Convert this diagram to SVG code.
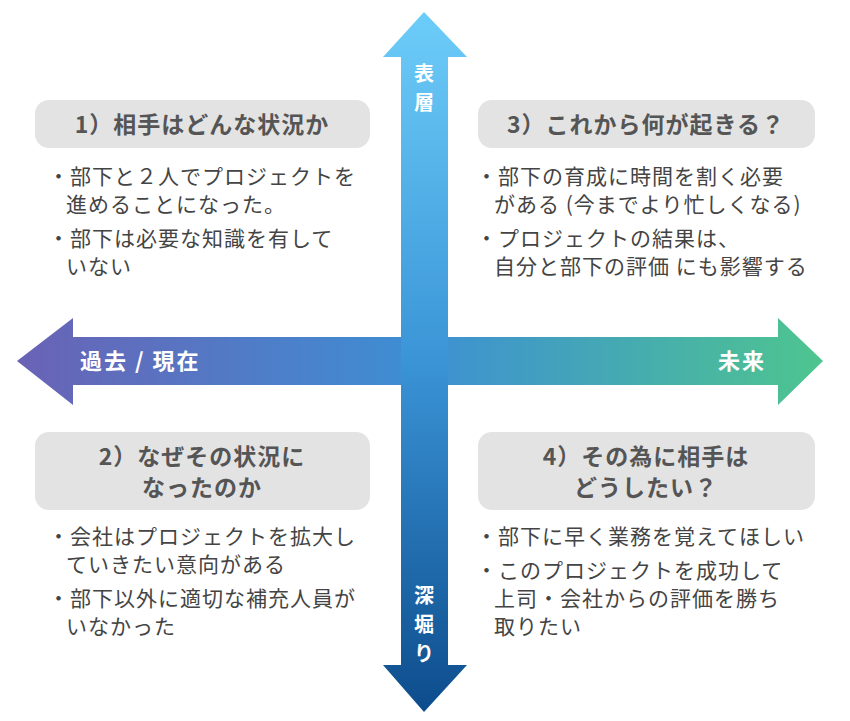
<svg xmlns="http://www.w3.org/2000/svg" width="850" height="721" viewBox="0 0 850 721">
<defs>
<linearGradient id="gh" x1="0" y1="0" x2="1" y2="0"><stop offset="0" stop-color="#6a62b5"/><stop offset="0.5" stop-color="#3d8fd4"/><stop offset="1" stop-color="#4ec58f"/></linearGradient>
<linearGradient id="gv" x1="0" y1="0" x2="0" y2="1"><stop offset="0" stop-color="#6dcdf9"/><stop offset="0.5" stop-color="#3a94d6"/><stop offset="1" stop-color="#0d4c8c"/></linearGradient>
<style>
.box{fill:#e3e3e3}
.t{font-family:"Noto Sans CJK JP","Noto Sans",sans-serif;font-weight:bold;font-size:23px;letter-spacing:1px;fill:#555;text-anchor:middle}
.b{font-family:"Noto Sans CJK JP","Noto Sans",sans-serif;font-size:21px;letter-spacing:1px;fill:#444}
.w{font-family:"Noto Sans CJK JP","Noto Sans",sans-serif;font-weight:bold;font-size:22px;letter-spacing:2px;fill:#fff}
.v{font-family:"Noto Sans CJK JP","Noto Sans",sans-serif;font-weight:bold;font-size:20px;fill:#fff;text-anchor:middle}
</style>
</defs>
<g id="connectors">
<polygon fill="url(#gh)" points="17,361 73,318 73,337 778,337 778,318 823,361 778,405 778,385 73,385 73,405"/>
<polygon fill="url(#gv)" points="424,12 467,57 448,57 448,665 467,665 424,712 383,665 401,665 401,57 383,57"/>
<text class="w" x="80" y="369">過去 / 現在</text>
<text class="w" x="718" y="369">未来</text>
<text class="v" x="424" y="81">表</text>
<text class="v" x="424" y="110">層</text>
<text class="v" x="424" y="603">深</text>
<text class="v" x="424" y="632">堀</text>
<text class="v" x="424" y="661">り</text>
</g>
<g id="n1">
<rect class="box" x="35" y="100" width="335" height="48" rx="14"/>
<text class="t" x="202" y="133">1）相手はどんな状況か</text>
<text class="b" x="48" y="184">・部下と２人でプロジェクトを</text>
<text class="b" x="66" y="212">進めることになった。</text>
<text class="b" x="48" y="246">・部下は必要な知識を有して</text>
<text class="b" x="66" y="274">いない</text>
</g>
<g id="n3">
<rect class="box" x="478" y="100" width="337" height="48" rx="14"/>
<text class="t" x="646" y="133">3）これから何が起きる？</text>
<text class="b" x="476" y="184">・部下の育成に時間を割く必要</text>
<text class="b" x="494" y="212">がある (今までより忙しくなる)</text>
<text class="b" x="476" y="246">・プロジェクトの結果は、</text>
<text class="b" x="494" y="274">自分と部下の評価 にも影響する</text>
</g>
<g id="n2">
<rect class="box" x="35" y="432" width="335" height="78" rx="14"/>
<text class="t" x="202" y="465">2）なぜその状況に</text>
<text class="t" x="202" y="496">なったのか</text>
<text class="b" x="48" y="544">・会社はプロジェクトを拡大し</text>
<text class="b" x="66" y="572">ていきたい意向がある</text>
<text class="b" x="48" y="606">・部下以外に適切な補充人員が</text>
<text class="b" x="66" y="634">いなかった</text>
</g>
<g id="n4">
<rect class="box" x="478" y="432" width="337" height="78" rx="14"/>
<text class="t" x="646" y="465">4）その為に相手は</text>
<text class="t" x="646" y="496">どうしたい？</text>
<text class="b" x="476" y="544">・部下に早く業務を覚えてほしい</text>
<text class="b" x="476" y="578">・このプロジェクトを成功して</text>
<text class="b" x="494" y="606">上司・会社からの評価を勝ち</text>
<text class="b" x="494" y="634">取りたい</text>
</g>
</svg>
